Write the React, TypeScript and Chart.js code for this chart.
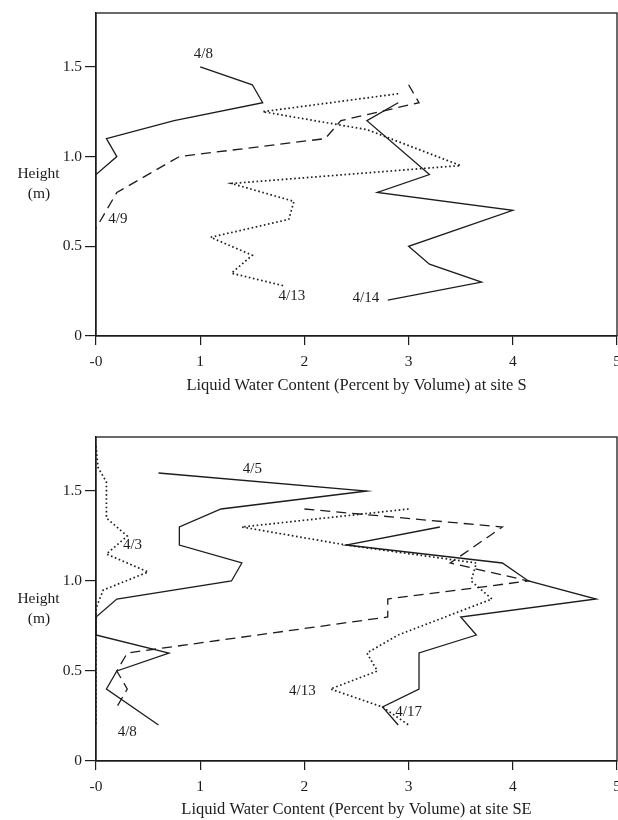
import React, { useEffect, useRef } from "react";
import { Chart, registerables } from "chart.js";

Chart.register(...registerables);

// ---------- axes ----------
const X_TICKS = [0, 1, 2, 3, 4, 5];
const X_TICK_LABELS = ["-0", "1", "2", "3", "4", "5"];
const Y_TICKS = [0, 0.5, 1.0, 1.5];
const Y_TICK_LABELS = ["0", "0.5", "1.0", "1.5"];
const X_MIN = 0;
const X_MAX = 5;
const Y_MIN = 0;
const Y_MAX = 1.8;

// ---------- site S ----------
const S_0408_X = [1.0, 1.5, 1.6, 0.75, 0.1, 0.2, 0];
const S_0408_Y = [1.5, 1.4, 1.3, 1.2, 1.1, 1.0, 0.9];

const S_0409_X = [3.0, 3.1, 2.35, 2.2, 0.8, 0.2, 0.1, 0];
const S_0409_Y = [1.4, 1.3, 1.2, 1.1, 1.0, 0.8, 0.7, 0.6];

const S_0413_X = [2.9, 1.6, 2.6, 3.5, 1.3, 1.9, 1.85, 1.1, 1.5, 1.3, 1.8];
const S_0413_Y = [1.35, 1.25, 1.15, 0.95, 0.85, 0.75, 0.65, 0.55, 0.45, 0.35, 0.28];

const S_0414_X = [2.9, 2.6, 3.2, 2.7, 4.0, 3.0, 3.2, 3.7, 2.8];
const S_0414_Y = [1.3, 1.2, 0.9, 0.8, 0.7, 0.5, 0.4, 0.3, 0.2];

const S_LABELS = ["4/8", "4/9", "4/13", "4/14"];
const S_LABEL_X = [1.03, 0.21, 1.88, 2.59];
const S_LABEL_Y = [1.57, 0.65, 0.22, 0.21];

// ---------- site SE ----------
const SE_0403_X = [0, 0.02, 0.1, 0.1, 0.3, 0.1, 0.5, 0.07, 0, 0];
const SE_0403_Y = [1.75, 1.63, 1.55, 1.35, 1.25, 1.15, 1.05, 0.95, 0.85, 0.2];

const SE_0405_X = [0.6, 2.6, 1.2, 0.8, 0.8, 1.4, 1.3, 0.2, 0, 0, 0.7, 0.2, 0.1, 0.6];
const SE_0405_Y = [1.6, 1.5, 1.4, 1.3, 1.2, 1.1, 1.0, 0.9, 0.8, 0.7, 0.6, 0.5, 0.4, 0.2];

const SE_0408_X = [2.0, 3.9, 3.4, 4.15, 2.8, 2.8, 0.3, 0.2, 0.3, 0.2];
const SE_0408_Y = [1.4, 1.3, 1.1, 1.0, 0.9, 0.8, 0.6, 0.5, 0.4, 0.3];

const SE_0413_X = [3.0, 1.4, 2.4, 3.65, 3.6, 3.8, 3.35, 2.9, 2.6, 2.7, 2.25, 2.75, 3.0];
const SE_0413_Y = [1.4, 1.3, 1.2, 1.1, 1.0, 0.9, 0.8, 0.7, 0.6, 0.5, 0.4, 0.3, 0.2];

const SE_0417_X = [3.3, 2.4, 3.9, 4.15, 4.8, 3.5, 3.65, 3.1, 3.1, 2.75, 2.9];
const SE_0417_Y = [1.3, 1.2, 1.1, 1.0, 0.9, 0.8, 0.7, 0.6, 0.4, 0.3, 0.2];

const SE_LABELS = ["4/5", "4/3", "4/8", "4/13", "4/17"];
const SE_LABEL_X = [1.5, 0.35, 0.3, 1.98, 3.0];
const SE_LABEL_Y = [1.62, 1.2, 0.16, 0.39, 0.27];

// ---------- styles ----------
const INK = "#1c1c1c";
const FONT_FAMILY = "'Liberation Serif', 'DejaVu Serif', serif";
const TICK_FONT = { family: FONT_FAMILY, size: 15.5 };
const TITLE_FONT = { family: FONT_FAMILY, size: 16.5 };
const SOLID = { dash: [] as number[], width: 1.3 };
const DASHED = { dash: [10, 6], width: 1.3 };
const DOTTED = { dash: [1.6, 2.6], width: 1.7 };

type Series = { x: number[]; y: number[]; style: { dash: number[]; width: number } };

const toPoints = (xs: number[], ys: number[]) => xs.map((x, i) => ({ x, y: ys[i] }));

const framePlugin = {
  id: "frameAndText",
  afterDraw(chart: any, _args: any, opts: any) {
    const { ctx, chartArea, scales } = chart;
    ctx.save();
    ctx.strokeStyle = INK;
    ctx.lineWidth = 1.3;
    ctx.strokeRect(chartArea.left, chartArea.top, chartArea.right - chartArea.left, chartArea.bottom - chartArea.top);
    ctx.fillStyle = INK;
    ctx.font = `15px ${FONT_FAMILY}`;
    ctx.textAlign = "center";
    ctx.textBaseline = "middle";
    const labels: string[] = opts.labels || [];
    labels.forEach((t, i) => {
      ctx.fillText(t, scales.x.getPixelForValue(opts.lx[i]), scales.y.getPixelForValue(opts.ly[i]));
    });
    const yRef = scales.y.getPixelForValue(1.0);
    ctx.font = `15.5px ${FONT_FAMILY}`;
    ctx.fillText("Height", 38.5, yRef + 17.5);
    ctx.fillText("(m)", 39, yRef + 37.5);
    ctx.restore();
  },
};

function LwcChart(props: {
  series: Series[];
  labels: string[];
  lx: number[];
  ly: number[];
  title: string;
  top: number;
  axisHeight: number;
}) {
  const ref = useRef<HTMLCanvasElement>(null);
  useEffect(() => {
    if (!ref.current) return;
    const chart = new Chart(ref.current, {
      type: "line",
      data: {
        datasets: props.series.map((s) => ({
          data: toPoints(s.x, s.y),
          borderColor: INK,
          borderDash: s.style.dash,
          borderWidth: s.style.width,
          borderCapStyle: "butt",
          pointRadius: 0,
          tension: 0,
          fill: false,
        })),
      },
      options: {
        responsive: false,
        animation: false,
        events: [],
        layout: { padding: { left: 0, right: 1, top: 13, bottom: 0 } },
        plugins: {
          legend: { display: false },
          tooltip: { enabled: false },
          frameAndText: { labels: props.labels, lx: props.lx, ly: props.ly },
        } as any,
        scales: {
          x: {
            type: "linear",
            min: X_MIN,
            max: X_MAX,
            afterBuildTicks: (s: any) => {
              s.ticks = X_TICKS.map((v) => ({ value: v }));
            },
            afterFit: (s: any) => {
              s.height = props.axisHeight;
              s.paddingLeft = 0;
              s.paddingRight = 0;
            },
            ticks: {
              callback: (_v: any, i: number) => X_TICK_LABELS[i],
              color: INK,
              font: TICK_FONT,
              padding: 8,
              maxRotation: 0,
              autoSkip: false,
            },
            grid: { display: true, drawOnChartArea: false, drawTicks: true, tickLength: 9, color: INK, lineWidth: 1.2 },
            border: { display: true, color: INK, width: 1.3 },
            title: { display: true, text: props.title, font: TITLE_FONT, color: INK, padding: { top: 0, bottom: 4 } },
          },
          y: {
            type: "linear",
            min: Y_MIN,
            max: Y_MAX,
            afterBuildTicks: (s: any) => {
              s.ticks = Y_TICKS.map((v) => ({ value: v }));
            },
            afterFit: (s: any) => {
              s.width = 96;
              s.paddingTop = 0;
              s.paddingBottom = 0;
            },
            ticks: {
              callback: (_v: any, i: number) => Y_TICK_LABELS[i],
              color: INK,
              font: TICK_FONT,
              padding: 3,
              autoSkip: false,
            },
            grid: { display: true, drawOnChartArea: false, drawTicks: true, tickLength: 11, color: INK, lineWidth: 1.2 },
            border: { display: true, color: INK, width: 1.3 },
          },
        },
      } as any,
      plugins: [framePlugin],
    });
    return () => chart.destroy();
  }, []);
  return (
    <canvas
      ref={ref}
      width={618}
      height={400}
      style={{ position: "absolute", left: 0, top: props.top, width: 618, height: 400, display: "block" }}
    />
  );
}

export default function App() {
  const sSeries: Series[] = [
    { x: S_0408_X, y: S_0408_Y, style: SOLID },
    { x: S_0409_X, y: S_0409_Y, style: DASHED },
    { x: S_0413_X, y: S_0413_Y, style: DOTTED },
    { x: S_0414_X, y: S_0414_Y, style: SOLID },
  ];
  const seSeries: Series[] = [
    { x: SE_0403_X, y: SE_0403_Y, style: DOTTED },
    { x: SE_0405_X, y: SE_0405_Y, style: SOLID },
    { x: SE_0408_X, y: SE_0408_Y, style: DASHED },
    { x: SE_0413_X, y: SE_0413_Y, style: DOTTED },
    { x: SE_0417_X, y: SE_0417_Y, style: SOLID },
  ];
  return (
    <div style={{ position: "absolute", left: 0, top: 0, width: 618, height: 820, overflow: "hidden", background: "#fff" }}>
      <LwcChart
        series={sSeries}
        labels={S_LABELS}
        lx={S_LABEL_X}
        ly={S_LABEL_Y}
        title="Liquid Water Content (Percent by Volume) at site S"
        top={0}
        axisHeight={64}
      />
      <LwcChart
        series={seSeries}
        labels={SE_LABELS}
        lx={SE_LABEL_X}
        ly={SE_LABEL_Y}
        title="Liquid Water Content (Percent by Volume) at site SE"
        top={424}
        axisHeight={63}
      />
    </div>
  );
}
